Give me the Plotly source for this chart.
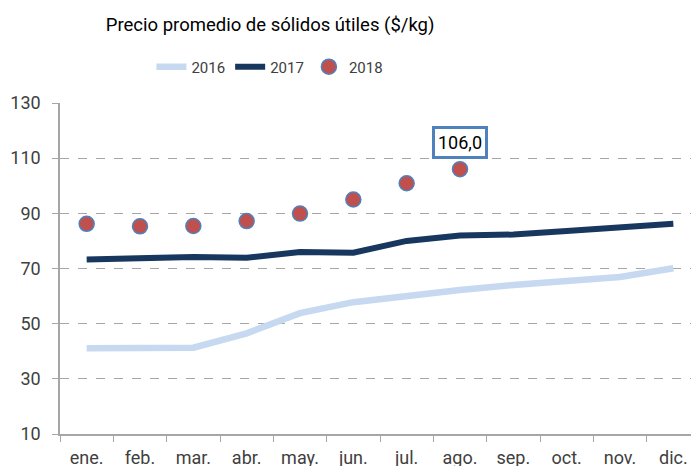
import plotly.graph_objects as go

months = ["ene.", "feb.", "mar.", "abr.", "may.", "jun.", "jul.", "ago.", "sep.", "oct.", "nov.", "dic."]
v2016 = [41.1, 41.0, 41.3, 46.5, 53.8, 57.8, 60.2, 62.2, 64.0, 65.5, 66.9, 70.1]
v2017 = [73.3, 73.7, 74.2, 73.9, 76.0, 75.7, 80.0, 82.0, 82.3, 83.6, 84.9, 86.2]
months2018 = ["ene.", "feb.", "mar.", "abr.", "may.", "jun.", "jul.", "ago."]
v2018 = [86.2, 85.3, 85.4, 87.2, 89.9, 95.0, 100.9, 106.0]

FONT = "Roboto, Lato, sans-serif"

fig = go.Figure()
fig.add_trace(go.Scatter(x=months, y=v2016, name="2016", mode="lines",
                         line=dict(color="#c6d9f1", width=6.5)))
fig.add_trace(go.Scatter(x=months, y=v2017, name="2017", mode="lines",
                         line=dict(color="#17375e", width=6)))
fig.add_trace(go.Scatter(x=months2018, y=v2018, name="2018", mode="markers",
                         marker=dict(color="#c0504d", size=15,
                                     line=dict(color="#4f81bd", width=1.5))))

fig.add_annotation(x="ago.", y=v2018[7], text="106,0", showarrow=False, yshift=27,
                   font=dict(family=FONT, size=18, color="#000000"),
                   bordercolor="#4f81bd", borderwidth=3, borderpad=3,
                   bgcolor="white")

fig.update_layout(
    width=699, height=466,
    margin=dict(l=52, r=7, t=95, b=40, autoexpand=False),
    paper_bgcolor="white", plot_bgcolor="white",
    font=dict(family=FONT, size=18, color="#404040"),
    title=dict(text="Precio promedio de sólidos útiles ($/kg)", x=0.375, xanchor="center",
               y=0.964, yanchor="middle", xref="container", yref="container",
               font=dict(family=FONT, size=18.5, color="#000000")),
    legend=dict(orientation="h", x=0.328, xanchor="center", y=1.109, yanchor="middle",
                font=dict(family=FONT, size=15, color="#404040"),
                itemwidth=30, tracegroupgap=0, bgcolor="rgba(0,0,0,0)"),
    showlegend=True,
)
fig.update_xaxes(type="category", categoryorder="array", categoryarray=months,
                 range=[-0.5, 11.5], tickson="boundaries", ticks="outside",
                 ticklen=6, tickcolor="#a6a6a6", showline=True, linecolor="#a6a6a6",
                 linewidth=1.5, showgrid=False, ticklabelstandoff=7, automargin=False,
                 tickfont=dict(family=FONT, size=18, color="#404040"))
fig.update_yaxes(range=[10, 130], dtick=20, tick0=10, ticks="outside", ticklen=6,
                 tickcolor="#a6a6a6", showline=True, linecolor="#a6a6a6", linewidth=1.5,
                 showgrid=True, gridcolor="#a6a6a6", griddash="dash", gridwidth=1,
                 zeroline=False, automargin=False, ticklabelstandoff=8,
                 tickfont=dict(family=FONT, size=18, color="#404040"))

fig.write_html("out.html")
